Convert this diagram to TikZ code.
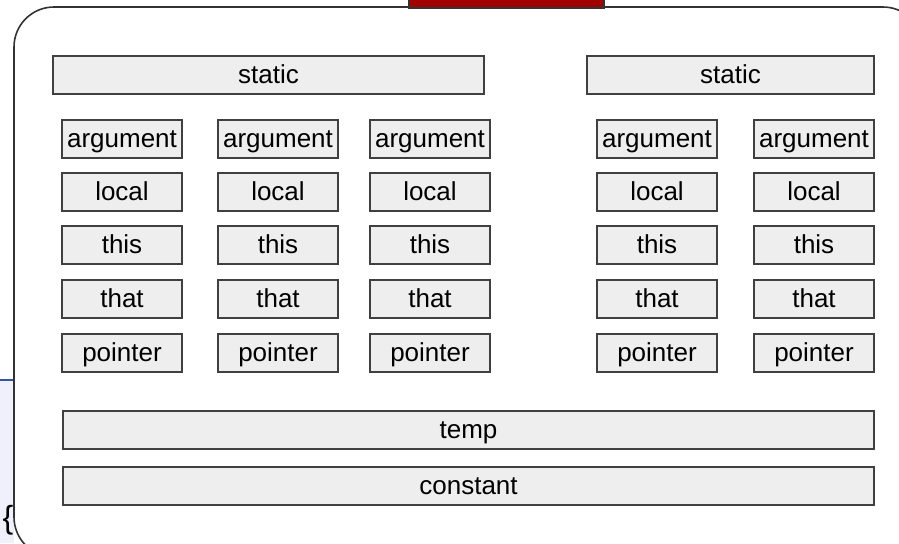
\documentclass[tikz,border=0pt]{standalone}
\usepackage{fontspec}
\setmainfont{Liberation Sans}
\usetikzlibrary{positioning}
\definecolor{boxfill}{HTML}{EEEEEE}
\definecolor{tabred}{HTML}{A00000}
\definecolor{sidefill}{HTML}{F0F0FC}
\definecolor{sideline}{HTML}{3355A0}

\begin{document}
\begin{tikzpicture}[x=0.5pt, y=-0.5pt,
        cell/.style={draw=black!75, fill=boxfill, line width=0.6pt,
          minimum width=60pt, minimum height=19pt, inner sep=0pt,
          text height=10pt, text depth=2pt,
          font=\fontsize{13}{15}\selectfont},
        wide/.style={cell, minimum width=#1}]
        \useasboundingbox (0,0) rectangle (899,543);
        % side panel on the left
        \fill[sidefill] (0,380) rectangle (14,543);
        \draw[sideline, line width=1pt] (0,380) -- (14,380);
        \node[inner sep=0pt, font=\fontsize{16}{18}\selectfont] (brace) at (8,520) {\{};
        % frame and tab
        \draw[black!80, line width=0.8pt, rounded corners=20pt] (14,7) rectangle (923,557);
        \filldraw[fill=tabred, draw=black!80, line width=0.6pt] (409,-2) rectangle (604,8);
        % segments
        \node[wide=215.5pt] (static-a) at (268.5,75) {static};
        \node[wide=143.5pt] (static-b) at (730.5,75) {static};
        \foreach \c/\x in {1/122, 2/278, 3/430, 4/657, 5/814} {
          \foreach \r/\y/\t in {1/139/argument, 2/192/local, 3/245/this, 4/299/that, 5/353/pointer} {
            \node[cell] (cell-\r-\c) at (\x,\y) {\t};
          };
        };
        \node[wide=405.5pt] (temp) at (468.5,430) {temp};
        \node[wide=405.5pt] (constant) at (468.5,486) {constant};
      \end{tikzpicture}
\end{document}
